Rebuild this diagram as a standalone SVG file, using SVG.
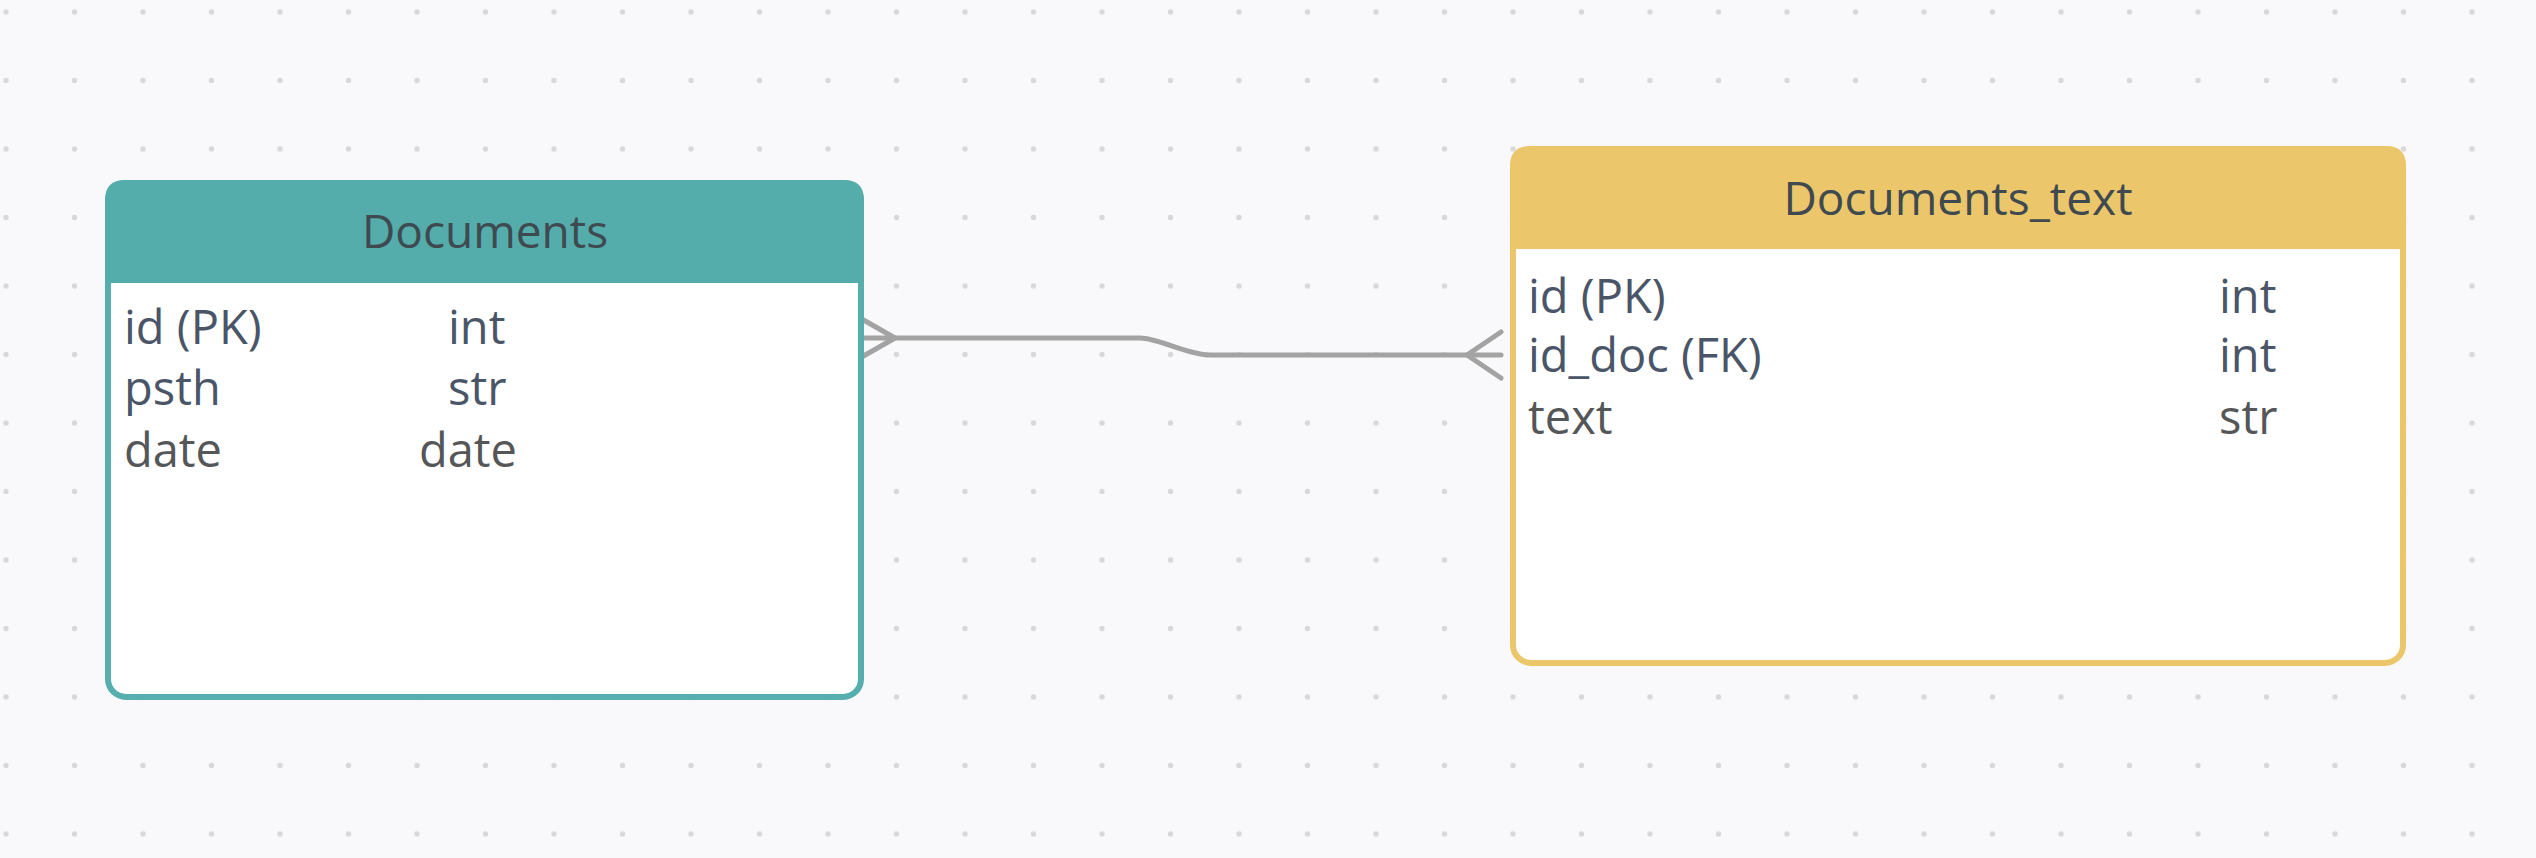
<svg xmlns="http://www.w3.org/2000/svg" width="2536" height="858" viewBox="0 0 2536 858">
  <defs>
    <pattern id="dots" patternUnits="userSpaceOnUse" x="-28.25" y="-22.25" width="68.5" height="68.5">
      <circle cx="34.25" cy="34.25" r="2.7" fill="#d7d7dc"/>
    </pattern>
    <style>
      .title { font-family: "Open Sans", "Noto Sans", "Liberation Sans", sans-serif; font-size: 46px; fill: #3e4a50; text-anchor: middle; }
      .row { font-family: "Open Sans", "Noto Sans", "Liberation Sans", sans-serif; font-size: 47px; fill: #4a5568; }
      .row2 { font-family: "Open Sans", "Noto Sans", "Liberation Sans", sans-serif; font-size: 47px; fill: #545658; }
      .conn { fill: none; stroke: #a3a3a3; stroke-width: 5; stroke-linecap: round; stroke-linejoin: round; }
    </style>
  </defs>
  <rect x="0" y="0" width="2536" height="858" fill="#f9f9fb"/>
  <rect x="0" y="0" width="2536" height="858" fill="url(#dots)"/>

  <g id="connectors">
    <path class="conn" d="M 860 338 H 1140 C 1158 338, 1188 355, 1210 355 H 1501"/>
    <path class="conn" d="M 860 318 L 895 338 L 860 358"/>
    <path class="conn" d="M 1501 332 L 1467 355 L 1501 378"/>
  </g>

  <g id="documents">
    <rect x="108" y="183" width="753" height="514" rx="18" fill="#ffffff" stroke="#56aeae" stroke-width="6"/>
    <path d="M 105 283 V 200 Q 105 180 125 180 H 844 Q 864 180 864 200 V 283 Z" fill="#54acab"/>
    <text class="title" x="485" y="248">Documents</text>
    <text class="row" x="124" y="344">id (PK)</text>
    <text class="row" x="448" y="344">int</text>
    <text class="row" x="124" y="405">psth</text>
    <text class="row" x="448" y="405">str</text>
    <text class="row2" x="124" y="467">date</text>
    <text class="row2" x="419" y="467">date</text>
  </g>

  <g id="documents_text">
    <rect x="1513" y="149" width="890" height="514" rx="18" fill="#ffffff" stroke="#ecc66a" stroke-width="6"/>
    <path d="M 1510 249 V 166 Q 1510 146 1530 146 H 2386 Q 2406 146 2406 166 V 249 Z" fill="#ecc66a"/>
    <text class="title" x="1958" y="215">Documents_text</text>
    <text class="row" x="1528" y="313">id (PK)</text>
    <text class="row" x="2219" y="313">int</text>
    <text class="row" x="1528" y="372">id_doc (FK)</text>
    <text class="row" x="2219" y="372">int</text>
    <text class="row2" x="1528" y="434">text</text>
    <text class="row2" x="2219" y="434">str</text>
  </g>
</svg>
